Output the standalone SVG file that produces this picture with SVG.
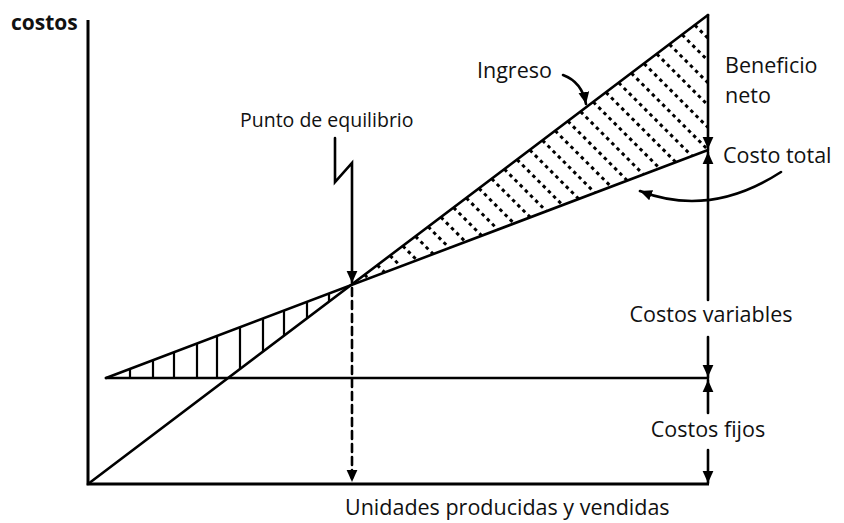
<svg xmlns="http://www.w3.org/2000/svg" width="844" height="523" viewBox="0 0 844 523">
<style>
.ln{stroke:#000;stroke-width:2.6;fill:none;stroke-linecap:round}
.ax{stroke:#000;stroke-width:3;fill:none}
.hv{stroke:#000;stroke-width:2.2;fill:none}
.dot{stroke:#000;stroke-width:3;fill:none;stroke-dasharray:3.5 3.8}
.t{font-family:"Open Sans","Noto Sans",Lato,sans-serif;font-size:21.5px;fill:#111}
.b{font-weight:bold;font-size:21px}
.s{font-size:19.5px}
</style>
<defs>
<marker id="ah" viewBox="0 0 10 10" refX="10" refY="5" markerWidth="4.6" markerHeight="4.6" orient="auto" markerUnits="strokeWidth">
<path d="M0,0.5 L10,5 L0,9.5 z" fill="#000"/>
</marker>
<clipPath id="rc"><polygon points="352,285 708,15 708,150"/></clipPath>
</defs>

<g id="axes">
<path class="ax" d="M88,20 V484 H709"/>
</g>

<g id="hatch-loss">
<path class="hv" d="M130,369 V378 M153,360 V378 M174,352 V378 M197,343.5 V378 M217,336 V378 M240,327 V369 M263,318.5 V351.7 M284,310.5 V335.8 M307,302 V318.4 M329,293.5 V301.8"/>
</g>

<g id="hatch-profit" clip-path="url(#rc)">
<path class="dot" d="M364.7,274.8 l150,150 M377.4,265.2 l150,150 M390.1,255.6 l150,150 M402.8,246 l150,150 M415.5,236.4 l150,150 M428.2,226.8 l150,150 M440.9,217.2 l150,150 M453.6,207.6 l150,150 M466.3,198 l150,150 M479,188.4 l150,150 M491.7,178.8 l150,150 M504.4,169.2 l150,150 M517.1,159.6 l150,150 M529.8,150 l150,150 M542.5,140.4 l150,150 M555.2,130.8 l150,150 M567.9,121.2 l150,150 M580.6,111.6 l150,150 M593.3,102 l150,150 M606,92.4 l150,150 M618.7,82.8 l150,150 M631.4,73.2 l150,150 M644.1,63.6 l150,150 M656.8,54 l150,150 M669.5,44.4 l150,150 M682.2,34.8 l150,150 M694.9,25.2 l150,150"/>
</g>

<g id="lines">
<path id="ingreso-line" class="ln" d="M88,484 L708,15"/>
<path id="costo-total-line" class="ln" d="M106,378 L708,150"/>
<path id="costos-fijos-line" class="ln" d="M106,378 H708"/>
</g>

<g id="connectors">
<path class="ln" d="M335,138 V182 L352,163 V283" marker-end="url(#ah)"/>
<path class="ln" d="M352,288 V482" stroke-dasharray="8 5" marker-end="url(#ah)"/>
<path class="ln" d="M708,15 V149" marker-end="url(#ah)"/>
<path class="ln" d="M708,300 V152" marker-end="url(#ah)"/>
<path class="ln" d="M708,337 V377" marker-end="url(#ah)"/>
<path class="ln" d="M708,413 V380" marker-end="url(#ah)"/>
<path class="ln" d="M708,450 V483" marker-end="url(#ah)"/>
<path class="ln" d="M781,172 Q710,218 640,191" marker-end="url(#ah)"/>
<path class="ln" d="M563,75 Q582,82 586,104" marker-end="url(#ah)"/>
</g>

<g id="labels">
<text class="t b" x="11" y="30">costos</text>
<text class="t s" x="240" y="127">Punto de equilibrio</text>
<text class="t" x="477" y="78">Ingreso</text>
<text class="t" x="725" y="73">Beneficio</text>
<text class="t" x="725" y="103">neto</text>
<text class="t" x="723" y="163">Costo total</text>
<text class="t" x="711" y="322" text-anchor="middle">Costos variables</text>
<text class="t" x="708" y="437" text-anchor="middle">Costos fijos</text>
<text class="t" x="345" y="515">Unidades producidas y vendidas</text>
</g>
</svg>
